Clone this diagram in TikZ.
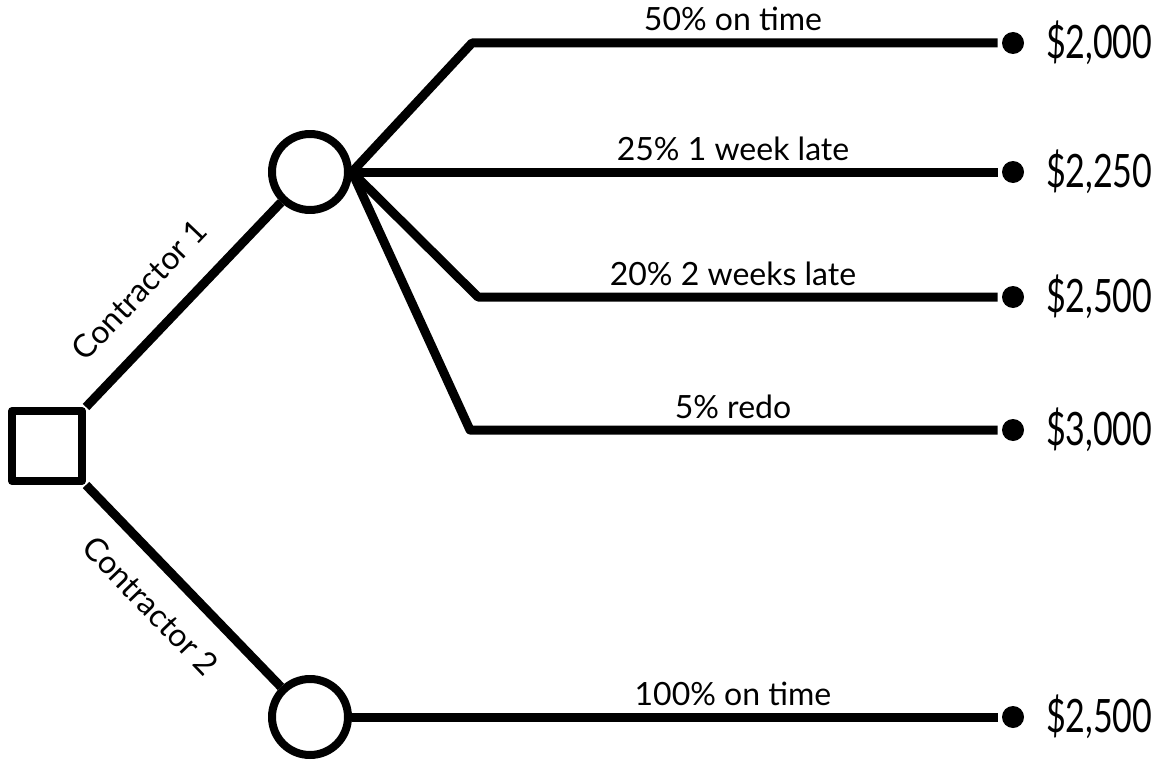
\documentclass[tikz,border=0pt]{standalone}
\usepackage{fontspec}
\setmainfont{Lato}
\newfontfamily\narrowfont[FakeStretch=0.74]{Lato}
\usetikzlibrary{positioning}
\tikzset{
  decision/.style={draw, rectangle, minimum size=70pt, inner sep=0pt},
  chance/.style={draw, circle, minimum size=76pt, inner sep=0pt},
  leaf/.style={fill, circle, minimum size=22pt, inner sep=0pt},
  value/.style={font=\narrowfont\fontsize{46}{50}\selectfont, inner sep=0pt},
  outcome/.style={font=\fontsize{32}{36}\selectfont, inner sep=0pt, anchor=base},
  choice/.style={font=\fontsize{32}{36}\selectfont, sloped}
}
\begin{document}
\begin{tikzpicture}[x=1pt, y=-1pt, line width=9pt, line join=round]
  \useasboundingbox (0,0) rectangle (1160,768);

  % decision and chance nodes
  \node[decision, line width=8pt] (dec) at (47,446) {};
  \node[chance, line width=8pt] (c1) at (310,172) {};
  \node[chance, line width=8pt] (c2) at (310,717) {};

  % bends
  \coordinate (b1) at (472,43);
  \coordinate (b3) at (478,297);
  \coordinate (b4) at (470,430);

  % end points
  \node[leaf] (e1) at (1013,43) {};
  \node[leaf] (e2) at (1013,172) {};
  \node[leaf] (e3) at (1013,297) {};
  \node[leaf] (e4) at (1013,430) {};
  \node[leaf] (e5) at (1013,717) {};

  \node[value, right=13pt of e1] (v1) {\$2,000};
  \node[value, right=13pt of e2] (v2) {\$2,250};
  \node[value, right=13pt of e3] (v3) {\$2,500};
  \node[value, right=13pt of e4] (v4) {\$3,000};
  \node[value, right=13pt of e5] (v5) {\$2,500};

  % choices
  \draw (dec.north east) -- node[choice, above, inner sep=26pt, pos=0.43] (t1) {Contractor 1} (c1);
  \draw (dec.south east) -- node[choice, below, inner sep=21pt, pos=0.47] (t2) {Contractor 2} (c2);

  % outcomes
  \draw (c1.east) -- (b1) -- (e1);
  \draw (c1.east) -- (e2);
  \draw (c1.east) -- (b3) -- (e3);
  \draw (c1.east) -- (b4) -- (e4);
  \draw (c2) -- (e5);

  \node[outcome] (p1) at (733,31) {50\% on time};
  \node[outcome] (p2) at (733,160) {25\% 1 week late};
  \node[outcome] (p3) at (733,285) {20\% 2 weeks late};
  \node[outcome] (p4) at (733,418) {5\% redo};
  \node[outcome] (p5) at (733,705) {100\% on time};
\end{tikzpicture}
\end{document}
